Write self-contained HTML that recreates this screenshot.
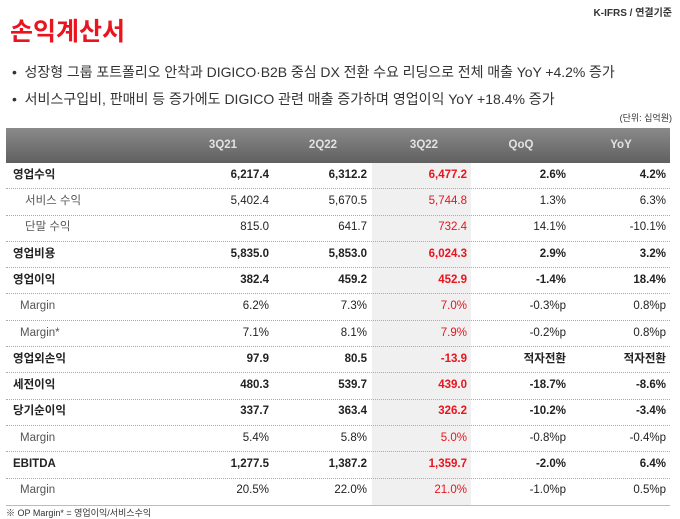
<!DOCTYPE html>
<html><head><meta charset="utf-8"><style>
*{margin:0;padding:0;box-sizing:border-box}
body{width:680px;height:518px;background:#fff;position:relative;overflow:hidden;font-family:"Liberation Sans","Noto Sans CJK KR",sans-serif;color:#222}
.a{position:absolute;white-space:nowrap}
.hl{position:absolute;left:372px;top:163px;width:99px;height:342px;background:#f0f0f0}
.hdr{position:absolute;left:6px;top:128px;width:664px;height:35px;background:linear-gradient(#8a8a8a,#606060)}
.hdr span{position:absolute;top:0;line-height:35px;color:#e2e2e2;font-size:11.5px;font-weight:bold;transform:translateX(-50%)}
.row{position:absolute;left:6px;width:664px;height:26.3px;border-bottom:1px dotted #aaa;font-size:11.5px}
.row span{position:absolute;top:0;height:25px;display:flex;align-items:center;line-height:1}
.row .c{text-align:right}
.b{font-weight:bold}
.r{color:#e8141e}
.g{color:#555}
</style></head><body>
<div class="a" style="right:8px;top:4px;font-size:10px;font-weight:bold;color:#333">K-IFRS / 연결기준</div>
<div class="a" style="left:10px;top:12px;font-size:25px;font-weight:bold;color:#e8141e">손익계산서</div>
<div class="a" style="left:12px;top:62px;font-size:14px;color:#333;letter-spacing:-0.05px">•&nbsp;&nbsp;성장형 그룹 포트폴리오 안착과 DIGICO·B2B 중심 DX 전환 수요 리딩으로 전체 매출 YoY +4.2% 증가</div>
<div class="a" style="left:12px;top:89px;font-size:14px;color:#333">•&nbsp;&nbsp;서비스구입비, 판매비 등 증가에도 DIGICO 관련 매출 증가하며 영업이익 YoY +18.4% 증가</div>
<div class="a" style="right:8px;top:111px;font-size:9px;color:#333">(단위: 십억원)</div>
<div class="hdr"><span style="left:217px">3Q21</span><span style="left:317px">2Q22</span><span style="left:418px">3Q22</span><span style="left:515px">QoQ</span><span style="left:615px">YoY</span></div>
<div class="hl"></div>
<div id="t"></div>
<div style="position:absolute;left:6px;top:505px;width:664px;border-top:1px solid #bbb"></div>
<div class="a" style="left:6px;top:506px;font-size:9px;color:#333">※ OP Margin* = 영업이익/서비스수익</div>
<script>
var rows=[
["영업수익","6,217.4","6,312.2","6,477.2","2.6%","4.2%",1,0],
["서비스 수익","5,402.4","5,670.5","5,744.8","1.3%","6.3%",0,12],
["단말 수익","815.0","641.7","732.4","14.1%","-10.1%",0,12],
["영업비용","5,835.0","5,853.0","6,024.3","2.9%","3.2%",1,0],
["영업이익","382.4","459.2","452.9","-1.4%","18.4%",1,0],
["Margin","6.2%","7.3%","7.0%","-0.3%p","0.8%p",0,7],
["Margin*","7.1%","8.1%","7.9%","-0.2%p","0.8%p",0,7],
["영업외손익","97.9","80.5","-13.9","적자전환","적자전환",1,0],
["세전이익","480.3","539.7","439.0","-18.7%","-8.6%",1,0],
["당기순이익","337.7","363.4","326.2","-10.2%","-3.4%",1,0],
["Margin","5.4%","5.8%","5.0%","-0.8%p","-0.4%p",0,7],
["EBITDA","1,277.5","1,387.2","1,359.7","-2.0%","6.4%",1,0],
["Margin","20.5%","22.0%","21.0%","-1.0%p","0.5%p",0,7]];
var R=[263,361,461,560,660],h="";
rows.forEach(function(r,i){
 var top=163+i*26.3,b=r[6]?" b":"";
 h+='<div class="row'+b+'" style="top:'+top+'px;'+(i==12?'border-bottom:none':'')+'">';
 h+='<span class="'+(r[6]?'':'g')+'" style="left:'+(7+r[7])+'px">'+r[0]+'</span>';
 for(var k=0;k<5;k++){h+='<span class="c'+(k==2?' r':'')+'" style="right:'+(664-R[k])+'px">'+r[k+1]+'</span>';}
 h+='</div>';
});
document.getElementById('t').innerHTML=h;
</script>
</body></html>
